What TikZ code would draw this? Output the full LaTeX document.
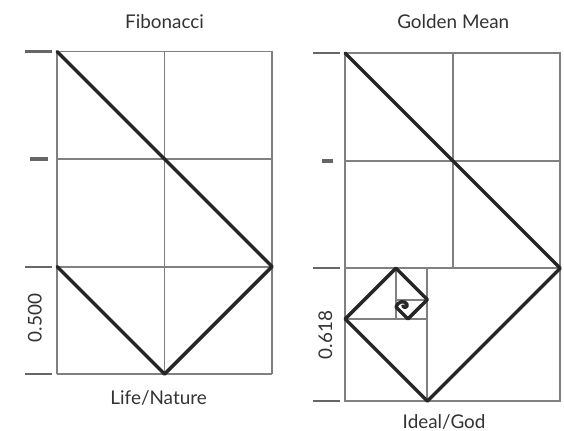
\documentclass[tikz,border=0pt]{standalone}
\usepackage{fontspec}
\setmainfont{Lato}

\begin{document}
\begin{tikzpicture}[
  gridline/.style={line width=1pt, draw=black!50},
  spiral/.style={line width=1.8pt, draw=black!85, line join=round, line cap=round},
  tickmark/.style={line width=1.1pt, draw=black!60},
  unitmark/.style={line width=2pt, draw=black!60},
  title/.style={font=\fontsize{10}{12}\selectfont, text=black!80}
]
  \useasboundingbox (0,0) rectangle (10.49,8);

  % Fibonacci
  \begin{scope}[shift={(1.06,1.042)}]
    \draw[gridline, step=2] (0,0) grid (4,6);
    \coordinate (f-tl) at (0,6);
    \coordinate (f-r) at (4,2);
    \coordinate (f-b) at (2,0);
    \coordinate (f-l) at (0,2);
    \draw[spiral] (f-tl) -- (f-r) -- (f-b) -- (f-l);
    \foreach \y in {0,2,6}
      \draw[tickmark] (-0.595,\y) -- (-0.093,\y);
    \draw[unitmark] (-0.5,4) -- (-0.17,4);
    \node[title] (fib) at (2,6.55) {Fibonacci};
    \node[title] (life) at (1.89,-0.44) {Life/Nature};
    \node[title, rotate=90] (half) at (-0.41,1.04) {0.500};
  \end{scope}

  % Golden Mean
  \begin{scope}[shift={(6.42,0.54)}]
    \def\h{2.472}
    \draw[gridline] (0,0) rectangle (4,\h+4);
    \draw[gridline] (0,\h) -- (4,\h);
    \draw[gridline] (0,\h+2) -- (4,\h+2);
    \draw[gridline] (2,\h) -- (2,\h+4);
    \draw[gridline] (1.528,0) -- (1.528,\h);
    \draw[gridline] (0,1.528) -- (1.528,1.528);
    \draw[gridline] (0.944,1.528) -- (0.944,\h);
    \draw[gridline] (0.944,1.888) -- (1.528,1.888);
    \coordinate (g-tl) at (0,\h+4);
    \coordinate (g-r) at (4,\h);
    \coordinate (g-b) at (1.528,0);
    \coordinate (g-l) at (0,1.528);
    \coordinate (g-t) at (0.944,\h);
    \coordinate (g-s) at (1.528,1.888);
    \coordinate (g-u) at (1.167,1.528);
    \coordinate (g-v) at (0.944,1.751);
    \draw[spiral] (g-tl) -- (g-r) -- (g-b) -- (g-l) -- (g-t) -- (g-s) -- (g-u) -- (g-v)
      .. controls (0.98,1.86) and (1.11,1.88) .. (1.15,1.80)
      .. controls (1.17,1.75) and (1.10,1.72) .. (1.07,1.77);
    \foreach \y in {0,\h,\h+4}
      \draw[tickmark] (-0.6,\y) -- (-0.09,\y);
    \draw[unitmark] (-0.43,\h+2) -- (-0.22,\h+2);
    \node[title] (gold) at (2.01,7.05) {Golden Mean};
    \node[title] (ideal) at (1.84,-0.39) {Ideal/God};
    \node[title, rotate=90] (phi) at (-0.37,1.23) {0.618};
  \end{scope}
\end{tikzpicture}
\end{document}
